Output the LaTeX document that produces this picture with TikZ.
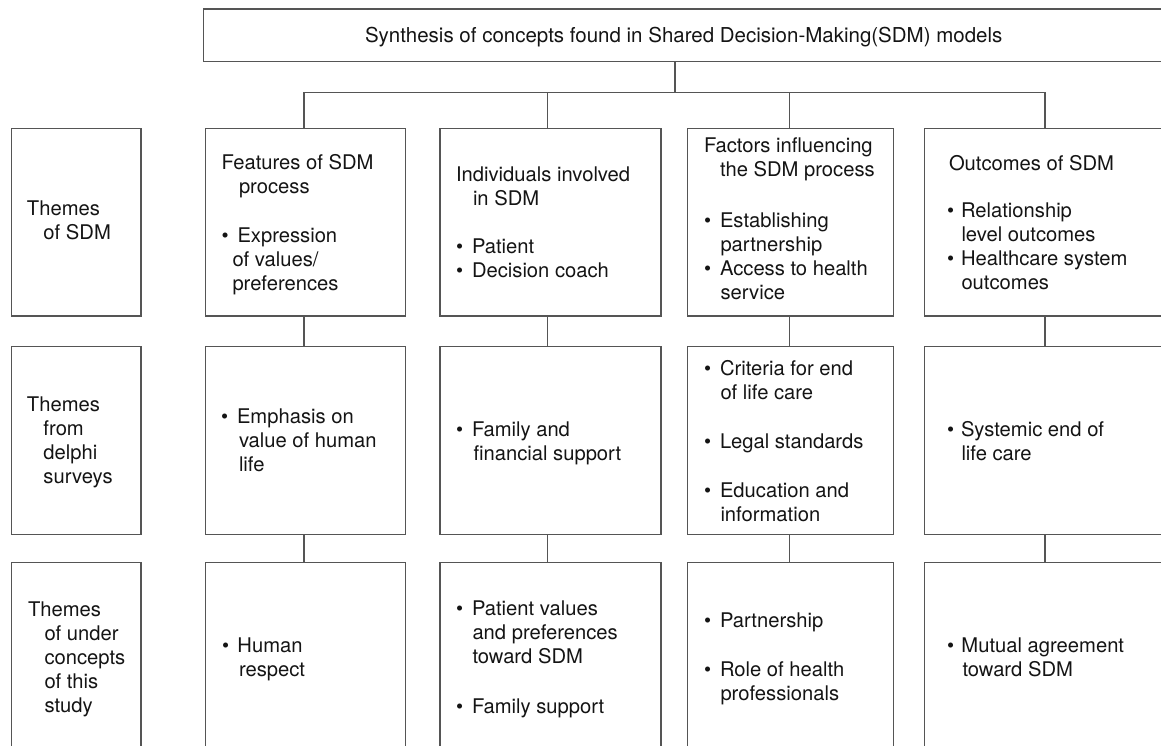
\documentclass[tikz,border=0pt]{standalone}
\usepackage{fontspec}
\setmainfont{TeX Gyre Heros}
\definecolor{lc}{RGB}{85,85,85}
\definecolor{tc}{RGB}{20,20,20}
\newcommand\bl[1][16pt]{\makebox[#1][l]{•}}
\newcommand\idt[1][16.5pt]{\hspace*{#1}}
\begin{document}
\begin{tikzpicture}[x=1pt,y=-1pt,
  boxs/.style={draw=lc, line width=1.2pt, rectangle, inner sep=0pt, outer sep=0pt, anchor=north west},
  conn/.style={draw=lc, line width=1.2pt},
  txt/.style={anchor=north west, inner sep=0pt, outer sep=0pt, align=left, text=tc, font=\fontsize{20.2}{24}\selectfont}]
\useasboundingbox (0,0) rectangle (1161,745);
\clip (0,0) rectangle (1161,745);
% boxes
\node[boxs, minimum width=981.5pt, minimum height=52.5pt] (top) at (203.5,9) {};
\node[boxs, minimum width=129.3pt, minimum height=187.7pt] (a0) at (11.7,128.3) {};
\node[boxs, minimum width=199.6pt, minimum height=187.7pt] (a1) at (205.7,128.3) {};
\node[boxs, minimum width=221pt, minimum height=187.7pt] (a2) at (440,128.3) {};
\node[boxs, minimum width=206pt, minimum height=187.7pt] (a3) at (687.3,128.3) {};
\node[boxs, minimum width=241.7pt, minimum height=187.7pt] (a4) at (924.3,128.3) {};
\node[boxs, minimum width=129.3pt, minimum height=188pt] (b0) at (11.7,346.7) {};
\node[boxs, minimum width=199.6pt, minimum height=188pt] (b1) at (205.7,346.7) {};
\node[boxs, minimum width=221pt, minimum height=188pt] (b2) at (440,346.7) {};
\node[boxs, minimum width=206pt, minimum height=188pt] (b3) at (687.3,346.7) {};
\node[boxs, minimum width=241.7pt, minimum height=188pt] (b4) at (924.3,346.7) {};
\node[boxs, minimum width=129.3pt, minimum height=190pt] (c0) at (11.7,562.3) {};
\node[boxs, minimum width=199.6pt, minimum height=190pt] (c1) at (205.7,562.3) {};
\node[boxs, minimum width=221pt, minimum height=190pt] (c2) at (440,562.3) {};
\node[boxs, minimum width=206pt, minimum height=190pt] (c3) at (687.3,562.3) {};
\node[boxs, minimum width=241.7pt, minimum height=190pt] (c4) at (924.3,562.3) {};
% connector positions
\coordinate (kt) at (675,0);
\coordinate (k1) at (304,0);
\coordinate (k2) at (547.7,0);
\coordinate (k3) at (789.3,0);
\coordinate (k4) at (1045,0);
\coordinate (hb) at (0,92.7);
\draw[conn] (top.south -| kt) -- (kt |- hb);
\draw[conn] (k1 |- a1.north) -- (k1 |- hb) -- (k4 |- hb) -- (k4 |- a4.north);
\draw[conn] (k2 |- hb) -- (k2 |- a2.north);
\draw[conn] (k3 |- hb) -- (k3 |- a3.north);
\draw[conn] (k1 |- a1.south) -- (k1 |- b1.north);
\draw[conn] (k2 |- a2.south) -- (k2 |- b2.north);
\draw[conn] (k3 |- a3.south) -- (k3 |- b3.north);
\draw[conn] (k4 |- a4.south) -- (k4 |- b4.north);
\draw[conn] (k1 |- b1.south) -- (k1 |- c1.north);
\draw[conn] (k2 |- b2.south) -- (k2 |- c2.north);
\draw[conn] (k3 |- b3.south) -- (k3 |- c3.north);
\draw[conn] (k4 |- b4.south) -- (k4 |- c4.north);
% texts
\node[txt, font=\fontsize{20.5}{24}\selectfont] (ttop) at (365,25.9) {\strut Synthesis of concepts found in Shared Decision-Making(SDM) models};
% row 1
\node[txt] (ta0) at (27,198.7) {\strut Themes\\\idt of SDM};
\node[txt] (ta1) at (221.5,152.2) {\strut Features of SDM\\\idt[17.5pt]process\\[25pt]\bl Expression\\\idt[11pt]of values/\\\idt[11pt]preferences};
\node[txt] (ta2) at (456,164.9) {\strut Individuals involved\\\idt[17pt]in SDM\\[23.5pt]\bl Patient\\\bl Decision coach};
\node[txt] (ta3) at (704,135.2) {\strut Factors influencing\\\idt[16pt]the SDM process\\[27pt]\bl Establishing\\\idt partnership\\\bl Access to health\\\idt service};
\node[txt] (ta4) at (947,153.2) {\strut\idt[2pt]Outcomes of SDM\\[23pt]\bl[14pt]Relationship\\\idt[14.5pt]level outcomes\\\bl[14pt]Healthcare system\\\idt[14.5pt]outcomes};
% row 2
\node[txt] (tb0) at (27,394.9) {\strut Themes\\\idt from\\\idt delphi\\\idt surveys};
\node[txt] (tb1) at (221,406.5) {\strut\bl Emphasis on\\\idt[18pt]value of human\\\idt[18pt]life};
\node[txt] (tb2) at (456,419.2) {\strut\bl Family and\\\idt[17.5pt]financial support};
\node[txt] (tb3) at (704,358.2) {\strut\bl Criteria for end\\\idt of life care\\[25pt]\bl Legal standards\\[25pt]\bl Education and\\\idt information};
\node[txt] (tb4) at (947,419.2) {\strut\bl[14pt]Systemic end of\\\idt[14.5pt]life care};
% row 3
\node[txt] (tc0) at (28,599.2) {\strut Themes\\\idt of under\\\idt concepts\\\idt of this\\\idt study};
\node[txt] (tc1) at (222,635.5) {\strut\bl[15.5pt]Human\\\idt[17pt]respect};
\node[txt] (tc2) at (456,598.9) {\strut\bl Patient values\\\idt and preferences\\\idt toward SDM\\[25.5pt]\bl Family support};
\node[txt] (tc3) at (704,610.9) {\strut\bl Partnership\\[24.5pt]\bl Role of health\\\idt professionals};
\node[txt] (tc4) at (947,635.5) {\strut\bl[14.5pt]Mutual agreement\\\idt[15.5pt]toward SDM};
\end{tikzpicture}
\end{document}
